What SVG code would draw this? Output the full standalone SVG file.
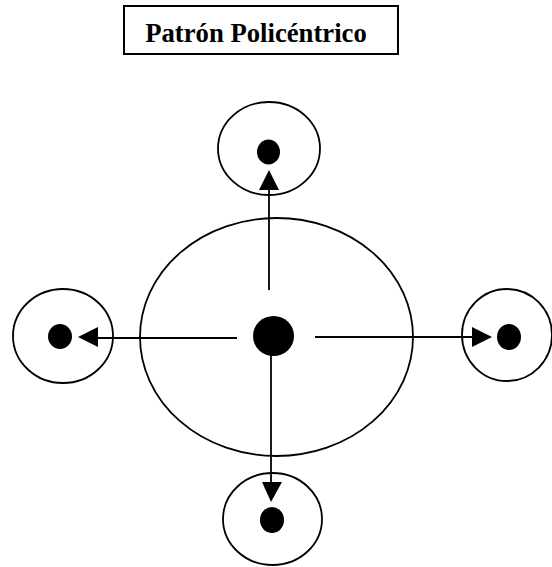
<svg xmlns="http://www.w3.org/2000/svg" width="552" height="567" viewBox="0 0 552 567">
<defs>
<style>
.ring{fill:none;stroke:#000;stroke-width:1.8}
.dot{fill:#000}
.conn{stroke:#000;stroke-width:1.8;fill:none}
.head{fill:#000}
.title{font-family:"Liberation Serif","Times New Roman",serif;font-weight:bold;font-size:26.7px;fill:#000}
</style>
</defs>
<rect width="552" height="567" fill="#fff"/>
<g id="title">
<rect x="124" y="6" width="274" height="48" fill="#fff" stroke="#000" stroke-width="2"/>
<text class="title" x="256" y="42" text-anchor="middle">Patrón Policéntrico</text>
</g>
<g id="center">
<ellipse class="ring" cx="276.5" cy="337" rx="136.5" ry="119"/>
<ellipse class="dot" cx="273.5" cy="336" rx="20.5" ry="20"/>
</g>
<g id="top">
<ellipse class="ring" cx="269" cy="148.5" rx="51" ry="46.5"/>
<ellipse class="dot" cx="268.5" cy="152" rx="11.5" ry="12.5"/>
</g>
<g id="left">
<ellipse class="ring" cx="63" cy="336" rx="50" ry="47"/>
<ellipse class="dot" cx="60" cy="336.5" rx="12" ry="12.5"/>
</g>
<g id="right">
<ellipse class="ring" cx="507" cy="335" rx="45" ry="46"/>
<ellipse class="dot" cx="509" cy="337" rx="12" ry="13"/>
</g>
<g id="bottom">
<ellipse class="ring" cx="272.5" cy="519" rx="49.5" ry="46"/>
<ellipse class="dot" cx="272" cy="520" rx="12" ry="13"/>
</g>
<g id="connectors">
<line class="conn" x1="269" y1="290" x2="269" y2="190"/>
<polygon class="head" points="269,170 259,190 279,190"/>
<line class="conn" x1="237" y1="338" x2="98" y2="338"/>
<polygon class="head" points="78,337 98,327 98,347"/>
<line class="conn" x1="315" y1="337" x2="472" y2="337"/>
<polygon class="head" points="492,337 472,327 472,347"/>
<line class="conn" x1="271" y1="347" x2="271" y2="482"/>
<polygon class="head" points="271,502 262,482 282,482"/>
</g>
</svg>
